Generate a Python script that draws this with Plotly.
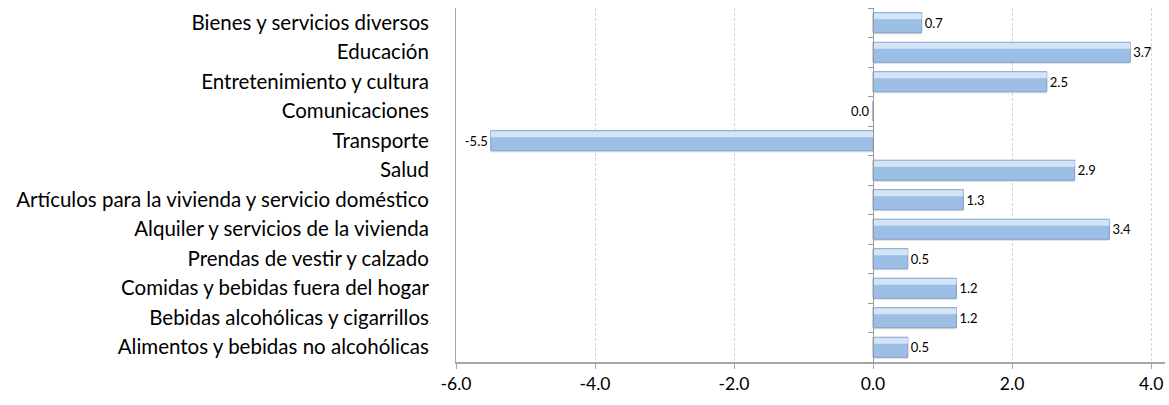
import plotly.graph_objects as go

# categories listed bottom to top, as plotted
categories = [
    'Alimentos y bebidas no alcohólicas',
    'Bebidas alcohólicas y cigarrillos',
    'Comidas y bebidas fuera del hogar',
    'Prendas de vestir y calzado',
    'Alquiler y servicios de la vivienda',
    'Artículos para la vivienda y servicio doméstico',
    'Salud',
    'Transporte',
    'Comunicaciones',
    'Entretenimiento y cultura',
    'Educación',
    'Bienes y servicios diversos',
]
values = [0.5, 1.2, 1.2, 0.5, 3.4, 1.3, 2.9, -5.5, 0.0, 2.5, 3.7, 0.7]
tick_vals = [-6, -4, -2, 0, 2, 4]
tick_text = ['-6.0', '-4.0', '-2.0', '0.0', '2.0', '4.0']

FONT = 'Lato, sans-serif'
X_RANGE = [-6, 4.2]
labels = ['%.1f' % v if v != 0 else '' for v in values]

fig = go.Figure()
# soft shadow under the bars
fig.add_trace(go.Bar(
    x=values, y=categories, orientation='h',
    width=0.68, offset=-0.40,
    marker=dict(color='rgba(0,0,0,0.10)', line=dict(width=0)),
    hoverinfo='skip',
))
# base bar
fig.add_trace(go.Bar(
    x=values, y=categories, orientation='h',
    width=0.68, offset=-0.34,
    marker=dict(color='#9dbee5', line=dict(color='#7f9fc8', width=1)),
    text=labels, textposition='outside', cliponaxis=False,
    textfont=dict(family=FONT, size=13, color='#000000'),
    hoverinfo='x+y',
))
# light sheen on the upper part of each bar (on yaxis2, which also draws the zero axis)
fig.add_trace(go.Bar(
    x=values, y=categories, orientation='h', yaxis='y2',
    width=0.2, offset=0.12,
    marker=dict(color='#d2e4f6', line=dict(width=0)),
    hoverinfo='skip',
))
# label for the zero bar sits left of the axis
fig.add_annotation(x=0, y='Comunicaciones', text='0.0', showarrow=False,
                   xanchor='right', xshift=-1,
                   font=dict(family=FONT, size=13, color='#000000'))

zero_pos = (0 - X_RANGE[0]) / (X_RANGE[1] - X_RANGE[0])

fig.update_layout(
    width=1169, height=405,
    margin=dict(l=456, r=4, t=8, b=43),
    paper_bgcolor='white', plot_bgcolor='white',
    showlegend=False, barmode='overlay',
    font=dict(family=FONT, color='#000000'),
    xaxis=dict(range=X_RANGE, tickvals=tick_vals, ticktext=tick_text,
               showgrid=True, gridcolor='#d6d6d6', griddash='3px,2px', gridwidth=1,
               zeroline=False, showline=True, linecolor='#a6a6a6', linewidth=2,
               ticks='outside', ticklen=5, tickcolor='#a6a6a6',
               tickfont=dict(size=17.5), automargin=False, fixedrange=True),
    yaxis=dict(showline=True, linecolor='#a6a6a6', linewidth=1, mirror=False,
               showgrid=False, ticks='', ticklabelstandoff=22,
               range=[-0.5, 11.5],
               tickfont=dict(size=20.5), automargin=False, fixedrange=True),
    yaxis2=dict(overlaying='y', anchor='free', position=zero_pos, side='left',
                range=[-0.5, 11.5], showline=True, linecolor='#9a9a9a', linewidth=1,
                ticks='outside', tickson='boundaries', ticklen=5, tickcolor='#9a9a9a',
                showticklabels=False, showgrid=False, zeroline=False,
                automargin=False, fixedrange=True),
)

# drop the default body margin so the figure fills the window exactly
fig.write_html('out.html', config={'displayModeBar': False},
               post_script="document.body.style.margin='0';")
